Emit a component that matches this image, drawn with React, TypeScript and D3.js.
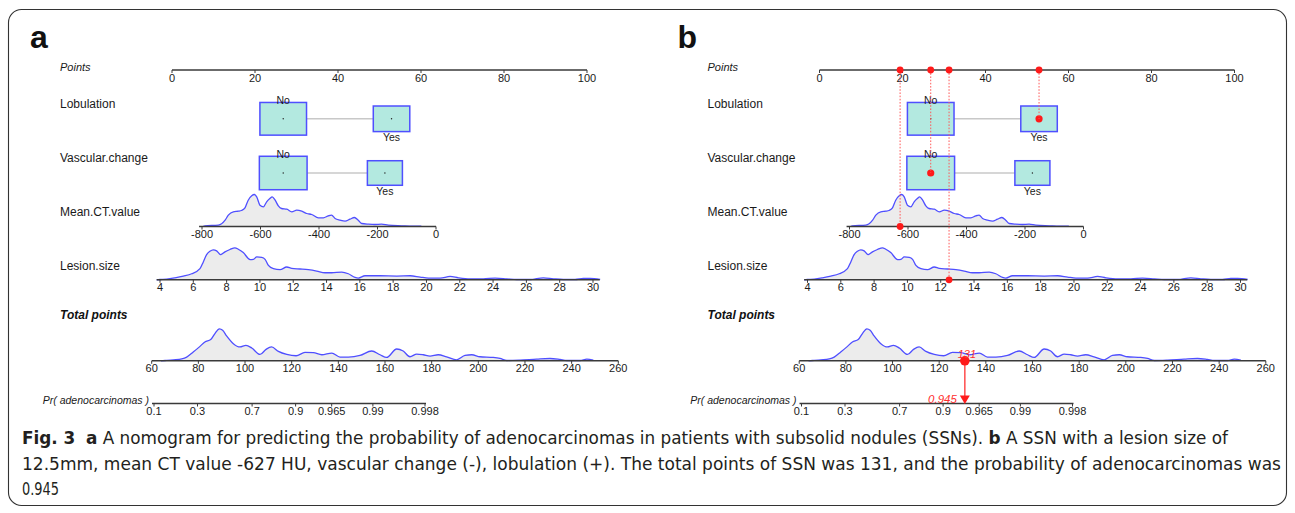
import React from 'react';
import * as d3 from 'd3';

// ---------- DATA ----------
const pointTicks = [0, 20, 40, 60, 80, 100];
const ctTicks = [-800, -600, -400, -200, 0];
const sizeTicks = [4, 6, 8, 10, 12, 14, 16, 18, 20, 22, 24, 26, 28, 30];
const totalTicks = [60, 80, 100, 120, 140, 160, 180, 200, 220, 240, 260];
const probTicks = [0.1, 0.3, 0.7, 0.9, 0.965, 0.99, 0.998];

const lobulationLevels = ['No', 'Yes'];
const lobulationPoints = [26.8, 52.9];
const lobulationFreq = [0.62, 0.38];
const vascularLevels = ['No', 'Yes'];
const vascularPoints = [26.8, 51.3];
const vascularFreq = [0.65, 0.35];

// [value, density]
const ctDensity: [number, number][] = [
  [-795, 0.3], [-790, 0.7], [-744, 1.3], [-721, 6.3], [-710, 11.3], [-693, 14.7], [-676, 15.3], [-665, 16],
  [-653, 18.7], [-642, 26.3], [-630, 30.7], [-621, 32], [-613, 29.7], [-602, 21.3], [-590, 19.7],
  [-579, 24.7], [-568, 28], [-560, 29.7], [-550, 26.3], [-539, 20.7], [-528, 18], [-510, 17.3],
  [-493, 14.7], [-476, 16.3], [-459, 15.3], [-442, 13], [-425, 12], [-402, 8.7], [-385, 8.7],
  [-368, 10.7], [-357, 11.3], [-345, 8], [-328, 6.3], [-311, 5.3], [-294, 7.3], [-279, 9],
  [-266, 6.3], [-254, 3], [-231, 2.3], [-209, 2], [-186, 2.3], [-163, 1.3], [-117, 0.7],
  [-80, 0.3], [-50, 0.4],
];

const sizeDensity: [number, number][] = [
  [3.8, 0], [4.0, 0.3], [4.4, 0.7], [4.9, 2], [5.4, 3.7], [5.9, 6], [6.4, 11], [6.6, 17.7], [6.8, 25],
  [7.0, 28.3], [7.2, 29.7], [7.4, 28.7], [7.64, 25], [7.9, 27.7], [8.2, 30], [8.5, 31.7], [8.7, 30.3],
  [9.0, 27], [9.41, 20], [9.61, 20.3], [9.81, 22.7], [10.11, 22.3], [10.31, 20.3], [10.51, 14.3],
  [10.81, 11], [11.21, 10], [11.61, 12.7], [11.91, 11.3], [12.41, 10.7], [12.91, 10], [13.41, 8.7],
  [13.91, 7], [14.31, 7], [14.91, 7.7], [15.31, 6], [15.71, 2.3], [15.91, 1.7], [16.31, 4],
  [17.21, 4], [18.22, 3.7], [19.02, 4], [19.62, 2.7], [20.12, 1.7], [20.82, 1.7], [21.42, 3.3],
  [21.92, 2], [22.62, 1], [23.42, 1], [24.12, 1.7], [24.82, 1], [25.42, 0.3], [26.22, 0.3],
  [27.02, 2], [27.62, 1], [28.22, 0.3], [28.92, 0.3], [29.42, 1.3], [29.82, 1.3], [30.43, 0.3],
];

const totalDensity: [number, number][] = [
  [64, 0], [65.7, 0.3], [69.3, 1], [72.9, 2], [75, 3.7], [77.8, 8.7], [80.7, 14.3], [82.8, 18.7],
  [85.3, 21], [87.1, 27], [89, 31.7], [90.4, 30.3], [92.1, 24.7], [95, 17], [97.8, 13.7],
  [100.4, 15.3], [102.9, 12.7], [106.4, 6.3], [109, 11.3], [111.4, 13.7], [114.3, 9.3],
  [117.9, 6.3], [121.9, 5], [125.7, 8.3], [129.3, 8], [132.9, 6], [137.2, 7.7], [140.7, 3.7],
  [144.3, 3.7], [149.3, 5.3], [154.3, 9.7], [157.9, 6], [160.7, 3.3], [165, 11.7], [167.8, 9.7],
  [170.7, 4], [173.6, 6.7], [176.4, 6], [179.3, 4.7], [182.8, 6], [186.4, 4], [190.7, 1],
  [194.3, 5.3], [197.2, 6], [200.7, 4], [206.4, 3.3], [209.3, 2.3], [212.2, 0.3], [217.9, 0.7],
  [225, 1.7], [230.7, 2.3], [235, 1.3], [237.9, 0.3], [243.6, 0.3], [246.5, 1.7], [249.3, 0.7],
];

// example patient (panel b)
const exMeanCT = -627;
const exLesion = 12.5;
const exLobulation = 'Yes';
const exVascular = 'No';
const exTotal = 131;
const exProb = 0.945;

const captionLines = [
  [
    { t: 'Fig. 3', b: true }, { t: '  ', b: false }, { t: 'a', b: true },
    { t: ' A nomogram for predicting the probability of adenocarcinomas in patients with subsolid nodules (SSNs). ', b: false },
    { t: 'b', b: true }, { t: ' A SSN with a lesion size of', b: false },
  ],
  [{ t: '12.5mm, mean CT value -627 HU, vascular change (-), lobulation (+). The total points of SSN was 131, and the probability of adenocarcinomas was', b: false }],
  [{ t: '0.945', b: false }],
];

// ---------- LAYOUT ----------
const W = 1295;
const H = 513;
const FONT = 'Liberation Sans, Arial, Helvetica, sans-serif';
const BLUE = '#4f4fff';
const RED = '#ff1a1a';
const FILL = '#ececec';
const BOX = '#b3e9e0';

const ptsScale = d3.scaleLinear().domain([0, 100]).range([172, 587]);
const ctScale = d3.scaleLinear().domain([-800, 0]).range([202, 436]);
const sizeScale = d3.scaleLinear().domain([4, 30]).range([160, 593]);
const totalScale = d3.scaleLinear().domain([60, 260]).range([151.7, 618.3]);
const logit = (p: number) => Math.log(p / (1 - p));
const prScale = d3.scaleLinear().domain([logit(0.1), logit(0.998)]).range([154, 425]);

const Y_POINTS = 70;
const Y_LOB = 118.8;
const Y_VASC = 173;
const Y_CT = 226.5;
const Y_SIZE = 279.8;
const Y_TOTAL = 360.8;
const Y_PR = 403.5;
const DENS_H = 32;

function Axis({ scale, ticks, y, x0, x1, fmt, size = 11 }: any) {
  return (
    <g>
      <line x1={x0} x2={x1} y1={y} y2={y} stroke="#3a3a3a" strokeWidth={1.5} />
      {ticks.map((t: number, i: number) => (
        <g key={i}>
          <line x1={scale(t)} x2={scale(t)} y1={y} y2={y + 3} stroke="#3a3a3a" strokeWidth={1} />
          <text x={scale(t)} y={y + 11.5} fontSize={size} textAnchor="middle" fill="#1a1a1a" fontFamily={FONT}>
            {fmt ? fmt(t) : String(t)}
          </text>
        </g>
      ))}
    </g>
  );
}

function Density({ data, scale, y }: { data: [number, number][]; scale: any; y: number }) {
  const maxD = d3.max(data, (d) => d[1]) as number;
  const h = d3.scaleLinear().domain([0, maxD]).range([0, DENS_H]);
  const area = d3
    .area<[number, number]>()
    .x((d) => scale(d[0]))
    .y0(y)
    .y1((d) => y - h(d[1]))
    .curve(d3.curveMonotoneX);
  const line = d3
    .line<[number, number]>()
    .x((d) => scale(d[0]))
    .y((d) => y - h(d[1]))
    .curve(d3.curveMonotoneX);
  return (
    <g>
      <path d={area(data) || ''} fill={FILL} stroke="none" />
      <path d={line(data) || ''} fill="none" stroke={BLUE} strokeWidth={1.3} />
    </g>
  );
}

function CatRow({ levels, points, freq, y, markLevel }: any) {
  const xs = points.map((p: number) => ptsScale(p));
  return (
    <g>
      <line x1={xs[0]} x2={xs[1]} y1={y} y2={y} stroke="#c8c8c8" strokeWidth={1.5} />
      {levels.map((lv: string, i: number) => {
        const w = 59.2 * Math.sqrt(freq[i]);
        const hh = 41.5 * Math.sqrt(freq[i]);
        const above = i === 0;
        return (
          <g key={lv}>
            <rect x={xs[i] - w / 2} y={y - hh / 2} width={w} height={hh} fill={BOX} stroke={BLUE} strokeWidth={1.5} />
            {markLevel === lv ? (
              <circle cx={xs[i]} cy={y} r={3.6} fill={RED} />
            ) : (
              <circle cx={xs[i]} cy={y} r={0.7} fill="#222" />
            )}
            <text
              x={xs[i]}
              y={above ? y - hh / 2 + 1.5 : y + hh / 2 + 9.5}
              fontSize={10.5}
              textAnchor="middle"
              fill="#1a1a1a"
              fontFamily={FONT}
            >
              {lv}
            </text>
          </g>
        );
      })}
    </g>
  );
}

function Panel({ dx, letter, marked }: { dx: number; letter: string; marked: boolean }) {
  const labelX = 60;
  const ctX = ctScale(exMeanCT);
  const sizeX = sizeScale(exLesion);
  const lobX = ptsScale(lobulationPoints[lobulationLevels.indexOf(exLobulation)]);
  const vascX = ptsScale(vascularPoints[vascularLevels.indexOf(exVascular)]);
  const totX = totalScale(exTotal);
  const marks = [
    { x: ctX, y: Y_CT },
    { x: vascX, y: Y_VASC },
    { x: sizeX, y: Y_SIZE },
    { x: lobX, y: Y_LOB },
  ];
  return (
    <g transform={`translate(${dx},0)`} fontFamily={FONT}>
      <text x={30} y={48} fontSize={32} fontWeight="bold" fill="#111">{letter}</text>

      {/* row labels */}
      <text x={labelX} y={70.5} fontSize={11} fontStyle="italic" fill="#1a1a1a">Points</text>
      <text x={labelX} y={107.5} fontSize={12} fill="#1a1a1a">Lobulation</text>
      <text x={labelX} y={161.5} fontSize={12} fill="#1a1a1a">Vascular.change</text>
      <text x={labelX} y={216} fontSize={12} fill="#1a1a1a">Mean.CT.value</text>
      <text x={labelX} y={270} fontSize={12} fill="#1a1a1a">Lesion.size</text>
      <text x={labelX} y={318.5} fontSize={12} fontStyle="italic" fontWeight="bold" fill="#111">Total points</text>
      <text x={149} y={404} fontSize={10.5} fontStyle="italic" textAnchor="end" fill="#1a1a1a">Pr( adenocarcinomas )</text>

      {/* Points axis */}
      <Axis scale={ptsScale} ticks={pointTicks} y={Y_POINTS} x0={ptsScale(0)} x1={ptsScale(100)} />

      {/* categorical rows */}
      <CatRow levels={lobulationLevels} points={lobulationPoints} freq={lobulationFreq} y={Y_LOB} markLevel={marked ? exLobulation : null} />
      <CatRow levels={vascularLevels} points={vascularPoints} freq={vascularFreq} y={Y_VASC} markLevel={marked ? exVascular : null} />

      {/* continuous rows */}
      <Density data={ctDensity} scale={ctScale} y={Y_CT} />
      <Axis scale={ctScale} ticks={ctTicks} y={Y_CT} x0={ctScale(-810)} x1={ctScale(0)} />
      <Density data={sizeDensity} scale={sizeScale} y={Y_SIZE} />
      <Axis scale={sizeScale} ticks={sizeTicks} y={Y_SIZE} x0={sizeScale(3.8)} x1={sizeScale(30.4)} />
      <Density data={totalDensity} scale={totalScale} y={Y_TOTAL} />
      <Axis scale={totalScale} ticks={totalTicks} y={Y_TOTAL} x0={totalScale(60)} x1={totalScale(260)} />

      {/* probability axis */}
      <Axis
        scale={(p: number) => prScale(logit(p))}
        ticks={probTicks}
        y={Y_PR}
        x0={prScale(logit(0.1)) - 2}
        x1={prScale(logit(0.998)) + 1}
        size={11}
      />

      {marked && (
        <g>
          {marks.map((m, i) => (
            <g key={i}>
              <line x1={m.x} x2={m.x} y1={Y_POINTS} y2={m.y} stroke="#ff5a5a" strokeWidth={1} strokeDasharray="1.6,1.6" />
              <circle cx={m.x} cy={Y_POINTS} r={3.4} fill={RED} />
              {(m.y === Y_CT || m.y === Y_SIZE) && <circle cx={m.x} cy={m.y} r={3.4} fill={RED} />}
            </g>
          ))}
          <line x1={totX} x2={totX} y1={Y_TOTAL} y2={Y_PR - 6} stroke="#ff4040" strokeWidth={1.4} />
          <circle cx={totX} cy={Y_TOTAL} r={4.8} fill={RED} />
          <text x={totX + 2} y={357.5} fontSize={11} fontStyle="italic" textAnchor="middle" fill="#ff3030">{exTotal}</text>
          <path
            d={`M${totX - 5},${Y_PR - 8} L${totX + 5},${Y_PR - 8} L${totX},${Y_PR + 0.5} Z`}
            fill={RED}
          />
          <text x={totX - 8} y={Y_PR - 1} fontSize={11.5} fontStyle="italic" textAnchor="end" fill="#ff3030">{exProb}</text>
        </g>
      )}
    </g>
  );
}

export default function App() {
  const capFont = 'Liberation Sans Narrow, DejaVu Sans Condensed, Open Sans, Liberation Sans, sans-serif';
  const capLens = [1206, 1259, 37];
  const capBase = [444, 469.5, 494.5];
  return (
    <svg width={W} height={H} viewBox={`0 0 ${W} ${H}`} style={{ position: 'absolute', left: 0, top: 0, background: '#fff' }}>
      <rect x={0} y={0} width={W} height={H} fill="#fff" />
      <rect x={8.5} y={9.5} width={1278} height={496} rx={13} ry={13} fill="none" stroke="#333" strokeWidth={1.1} />
      <Panel dx={0} letter="a" marked={false} />
      <Panel dx={647.5} letter="b" marked={true} />
      {captionLines.map((segs, li) => (
        <text
          key={li}
          x={22}
          y={capBase[li]}
          fontSize={17}
          fontFamily={capFont}
          fill="#231f20"
          textLength={capLens[li]}
          lengthAdjust="spacingAndGlyphs"
          xmlSpace="preserve"
        >
          {segs.map((s, i) => (
            <tspan key={i} fontWeight={s.b ? 'bold' : 'normal'}>{s.t}</tspan>
          ))}
        </text>
      ))}
    </svg>
  );
}
